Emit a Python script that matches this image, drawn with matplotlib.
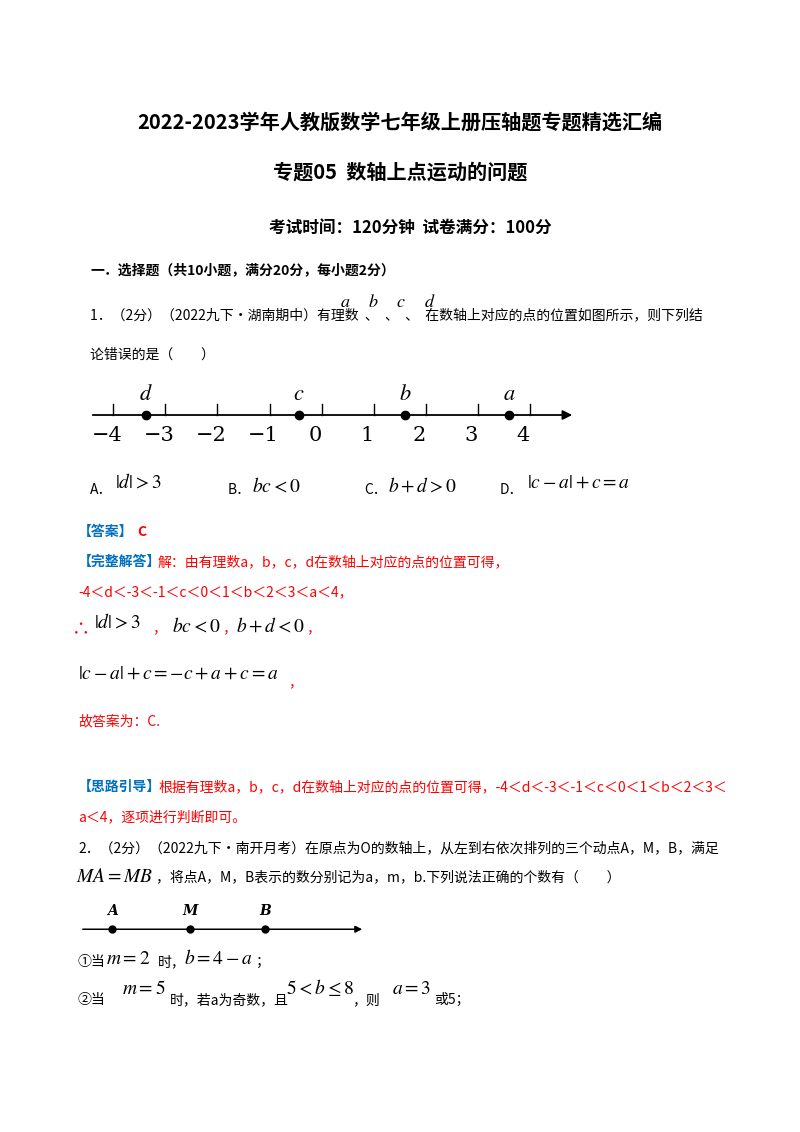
import matplotlib
matplotlib.use("Agg")
import matplotlib.pyplot as plt

plt.rcParams['font.family'] = ['Noto Sans CJK SC', 'DejaVu Sans']
plt.rcParams['mathtext.fontset'] = 'stix'

# data
ticks1 = [-4, -3, -2, -1, 0, 1, 2, 3, 4]
tick_labels1 = ['−4', '−3', '−2', '−1', '0', '1', '2', '3', '4']
point_names1 = ['d', 'c', 'b', 'a']
point_vals1 = [-3.37, -0.44, 1.6, 3.6]
point_names2 = ['A', 'M', 'B']
point_vals2 = [0.82, 2.82, 4.74]

RED = '#FF0000'
BLUE = '#0070C0'

fig = plt.figure(figsize=(8, 11.32), dpi=100)
bg = fig.add_axes([0, 0, 1, 1])
bg.set_xlim(0, 800); bg.set_ylim(1132, 0); bg.axis('off')

def t(x, y, s, size=10, **kw):
    bg.text(x, y, s, fontsize=size, va='center', **kw)

t(400, 122, '2022-2023学年人教版数学七年级上册压轴题专题精选汇编', 14.5, ha='center', weight='bold')
t(400, 172, '专题05  数轴上点运动的问题', 14.5, ha='center', weight='bold')
t(410, 228, '考试时间：120分钟  试卷满分：100分', 12, ha='center', weight='bold')
t(90, 270, '一．选择题（共10小题，满分20分，每小题2分）', 10, weight='bold')
t(90, 315, '1．（2分）（2022九下·湖南期中）有理数  、  、  、  在数轴上对应的点的位置如图所示，则下列结', 10)
for x, s in zip([340, 368, 396, 424], ['a', 'b', 'c', 'd']):
    t(x, 302, '$%s$' % s, 13)
t(90, 355, '论错误的是（　　）', 10)

# number line 1
ax1 = fig.add_axes([90/800, 1-450/1132, 485/800, 70/1132])
ax1.set_xlim(-4.45, 4.87); ax1.set_ylim(-1, 1); ax1.axis('off')
ax1.annotate('', xy=(4.87, 0), xytext=(-4.45, 0),
             arrowprops=dict(arrowstyle='-|>', color='black', lw=1.3, mutation_scale=14))
for v, lab in zip(ticks1, tick_labels1):
    ax1.plot([v, v], [0, 0.3], color='black', lw=1)
    ax1.text(v - 0.12, -0.6, lab, fontsize=15, ha='center', va='center', family='DejaVu Serif')
for n, v in zip(point_names1, point_vals1):
    ax1.plot(v, 0, 'o', color='black', ms=6)
    ax1.text(v, 0.6, '$%s$' % n, fontsize=16, ha='center', va='center')

t(90, 490, 'A．', 10); t(115, 482, r'$|d|>3$', 14)
t(228, 490, 'B．', 10); t(252, 486, r'$bc<0$', 14)
t(364, 490, 'C．', 10); t(388, 486, r'$b+d>0$', 14)
t(500, 490, 'D．', 10); t(527, 482, r'$|c-a|+c=a$', 14)

t(78, 532, '【答案】', 10, color=BLUE, weight='bold'); t(137, 532, 'C', 10, color=RED, weight='bold')
t(78, 562, '【完整解答】', 10, color=BLUE, weight='bold')
t(158, 562, '解：由有理数a，b，c，d在数轴上对应的点的位置可得，', 10, color=RED)
t(78, 592, '-4＜d＜-3＜-1＜c＜0＜1＜b＜2＜3＜a＜4，', 10, color=RED)
t(72, 630, '∴', 13, color=RED)
t(94, 622, r'$|d|>3$', 14); t(152, 628, '，', 10, color=RED)
t(172, 626, r'$bc<0$', 14); t(222, 628, '，', 10, color=RED)
t(236, 626, r'$b+d<0$', 14); t(306, 628, '，', 10, color=RED)
t(78, 673, r'$|c-a|+c=-c+a+c=a$', 14); t(288, 682, '，', 10, color=RED)
t(78, 721, '故答案为：C.', 10, color=RED)
t(78, 787, '【思路引导】', 10, color=BLUE, weight='bold')
t(158, 787, '根据有理数a，b，c，d在数轴上对应的点的位置可得，-4＜d＜-3＜-1＜c＜0＜1＜b＜2＜3＜', 10, color=RED)
t(78, 817, 'a＜4，逐项进行判断即可。', 10, color=RED)
t(78, 848, '2．（2分）（2022九下·南开月考）在原点为O的数轴上，从左到右依次排列的三个动点A，M，B，满足', 10)
t(76, 876, r'$MA=MB$', 14)
t(156, 877, '，将点A，M，B表示的数分别记为a，m，b.下列说法正确的个数有（　　）', 10)

# number line 2
ax2 = fig.add_axes([80/800, 1-945/1132, 285/800, 45/1132])
ax2.set_xlim(0.0, 7.3); ax2.set_ylim(-1, 1); ax2.axis('off')
ax2.annotate('', xy=(7.3, -0.3), xytext=(0.0, -0.3),
             arrowprops=dict(arrowstyle='-|>', color='black', lw=1.1, mutation_scale=10))
for n, v in zip(point_names2, point_vals2):
    ax2.plot(v, -0.3, 'o', color='black', ms=5)
    ax2.text(v, 0.5, n, fontsize=10, ha='center', va='center', style='italic', weight='bold',
             family='DejaVu Serif')

t(78, 962, '①当', 10); t(106, 959, r'$m=2$', 14); t(158, 962, '时，', 10)
t(184, 959, r'$b=4-a$', 14); t(256, 962, '；', 10)
t(78, 1000, '②当', 10); t(122, 988, r'$m=5$', 14); t(170, 1000, '时，若a为奇数，且', 10)
t(286, 988, r'$5<b\leq 8$', 14); t(352, 1000, '，则', 10); t(392, 988, r'$a=3$', 14); t(434, 1000, '或5；', 10)

fig.savefig('out.png', dpi=100)
